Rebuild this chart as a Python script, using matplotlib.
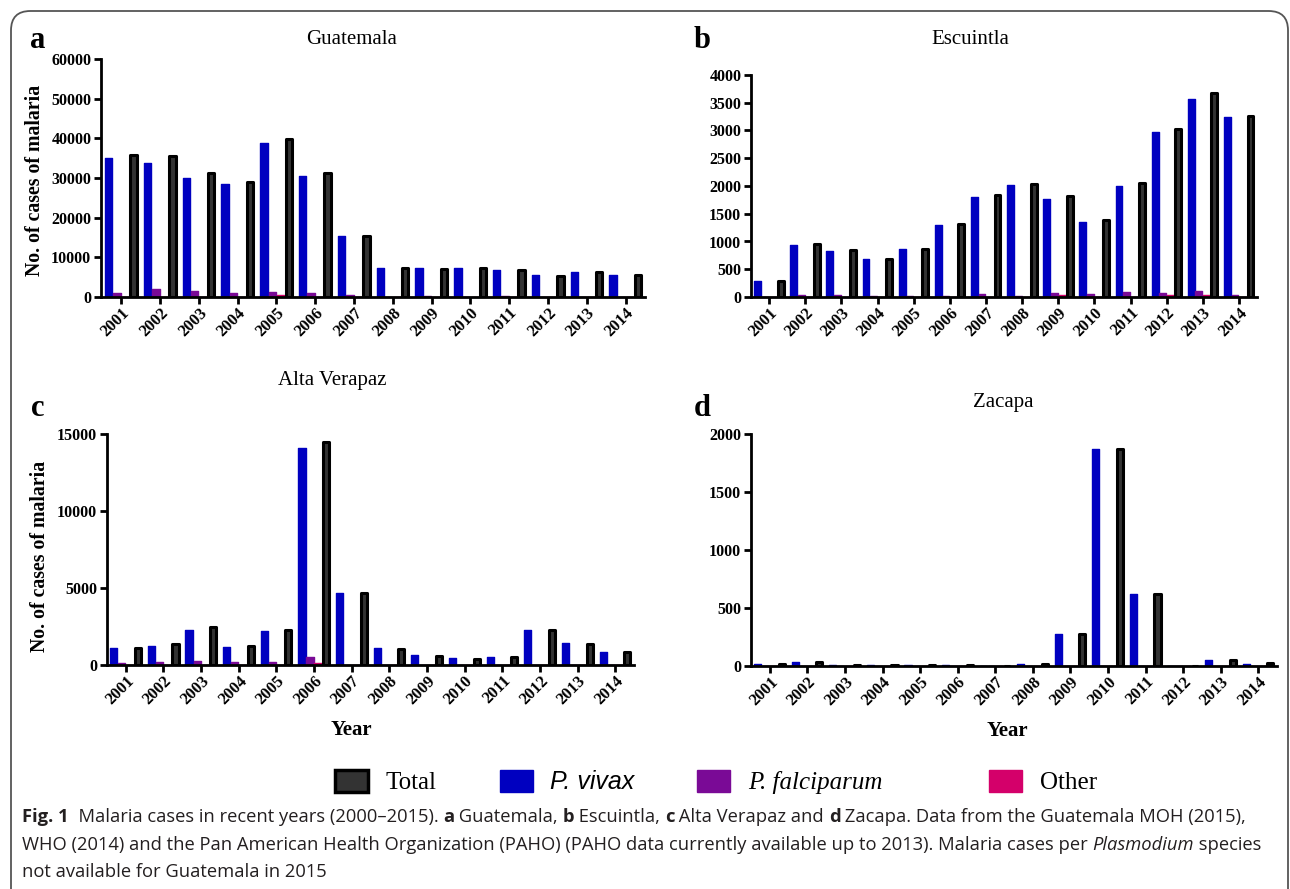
import matplotlib
matplotlib.use("Agg")
import matplotlib.pyplot as plt
from matplotlib.patches import Patch, FancyBboxPatch
import numpy as np

years = [str(y) for y in range(2001, 2015)]

# Panel a: Guatemala
gt_total = [35800, 35550, 31170, 29070, 39830, 31170, 15460, 7230, 7140, 7300, 6800, 5380, 6300, 5550]
gt_vivax = [35000, 33900, 30080, 28400, 38740, 30500, 15380, 7230, 7230, 7230, 6800, 5460, 6220, 5550]
gt_falc = [1100, 1900, 1400, 900, 1200, 1000, 400, 0, 150, 0, 150, 100, 100, 0]
gt_other = [0, 0, 0, 0, 400, 0, 0, 0, 0, 0, 0, 0, 0, 0]

# Panel b: Escuintla
es_total = [290, 950, 847, 685, 865, 1315, 1832, 2030, 1820, 1387, 2054, 3021, 3670, 3261]
es_vivax = [294, 940, 835, 685, 871, 1297, 1808, 2024, 1772, 1351, 1994, 2973, 3574, 3243]
es_falc = [0, 30, 30, 25, 25, 25, 60, 25, 72, 60, 84, 72, 114, 40]
es_other = [0, 0, 0, 0, 0, 0, 0, 0, 30, 0, 0, 30, 30, 0]

# Panel c: Alta Verapaz
av_total = [1080, 1340, 2442, 1253, 2290, 14500, 4690, 1060, 605, 389, 497, 2270, 1383, 821]
av_vivax = [1080, 1232, 2290, 1167, 2204, 14090, 4690, 1080, 627, 432, 519, 2290, 1405, 864]
av_falc = [100, 190, 240, 170, 170, 500, 30, 0, 0, 0, 0, 0, 0, 0]
av_other = [0, 0, 0, 0, 0, 100, 30, 0, 0, 0, 0, 0, 0, 0]

# Panel d: Zacapa
za_total = [20, 32, 10, 8, 8, 8, 0, 15, 280, 1873, 620, 0, 49, 23]
za_vivax = [20, 32, 10, 8, 8, 8, 0, 15, 280, 1873, 620, 0, 49, 20]
za_falc = [0, 0, 0, 0, 0, 0, 0, 0, 0, 0, 0, 0, 0, 0]
za_other = [0, 0, 0, 0, 4, 0, 0, 0, 0, 0, 0, 0, 0, 0]

titles = ["Guatemala", "Escuintla", "Alta Verapaz", "Zacapa"]
letters = ["a", "b", "c", "d"]
legend_labels = ["Total", "P. vivax", "P. falciparum", "Other"]

C_TOTAL = "#333333"
C_VIVAX = "#0000C0"
C_FALC = "#7A0A96"
C_OTHER = "#D4006A"

W, H = 1290, 889
fig = plt.figure(figsize=(W / 100, H / 100), dpi=100)

SERIF = "Liberation Serif"

def px_ax(l, t, r, b):
    return [l / W, 1 - b / H, (r - l) / W, (b - t) / H]

def fx(px):
    return px / W

def fy(py):
    return 1 - py / H

panels = [
    (px_ax(101, 59, 645, 297), gt_total, gt_vivax, gt_falc, gt_other, 60000, 10000, -0.52),
    (px_ax(751, 75, 1257, 297), es_total, es_vivax, es_falc, es_other, 4000, 500, -0.5),
    (px_ax(107, 434, 634, 665), av_total, av_vivax, av_falc, av_other, 15000, 5000, -0.5),
    (px_ax(751, 434, 1277, 666), za_total, za_vivax, za_falc, za_other, 2000, 500, -0.5),
]

x = np.arange(len(years))
bw = 0.19
for i, (rect, tot, viv, fal, oth, ymax, ystep, xl) in enumerate(panels):
    ax = fig.add_axes(rect)
    ax.bar(x - 0.32, viv, bw, color=C_VIVAX, edgecolor=C_VIVAX, linewidth=1, joinstyle="round")
    ax.bar(x - 0.107, fal, bw, color=C_FALC, edgecolor=C_FALC, linewidth=1, joinstyle="round")
    ax.bar(x + 0.107, oth, bw, color=C_OTHER, edgecolor=C_OTHER, linewidth=1, joinstyle="round")
    ax.bar(x + 0.32, tot, bw * 0.85, color=C_TOTAL, edgecolor="black", linewidth=2.2, joinstyle="round")
    ax.set_xlim(xl, 13.5)
    ax.set_ylim(0, ymax)
    ax.set_yticks(np.arange(0, ymax + 1, ystep))
    ax.set_xticks(x)
    ax.set_xticklabels(years, rotation=45, ha="right", va="top", rotation_mode="anchor")
    for s in ["top", "right"]:
        ax.spines[s].set_visible(False)
    for s in ["left", "bottom"]:
        ax.spines[s].set_linewidth(2)
    ax.tick_params(axis="both", width=2, length=5, direction="out", pad=2)
    ax.tick_params(axis="x", pad=0.5)
    for lab in ax.get_xticklabels():
        lab.set_fontfamily(SERIF)
        lab.set_fontweight("bold")
        lab.set_fontsize(12)
    for lab in ax.get_yticklabels():
        lab.set_fontfamily(SERIF)
        lab.set_fontweight("bold")
        lab.set_fontsize(11.5)

# axis labels
fig.text(fx(35), fy(180), "No. of cases of malaria", family=SERIF, fontweight="bold", fontsize=14.3,
         rotation=90, ha="center", va="center")
fig.text(fx(40), fy(556), "No. of cases of malaria", family=SERIF, fontweight="bold", fontsize=14.3,
         rotation=90, ha="center", va="center")
fig.text(fx(351), fy(730), "Year", family=SERIF, fontweight="bold", fontsize=15, ha="center", va="center")
fig.text(fx(1007), fy(731), "Year", family=SERIF, fontweight="bold", fontsize=15, ha="center", va="center")

# titles and panel letters
fig.text(fx(352), fy(40), titles[0], family=SERIF, fontsize=15, ha="center", va="center")
fig.text(fx(970), fy(40), titles[1], family=SERIF, fontsize=15, ha="center", va="center")
fig.text(fx(332), fy(380), titles[2], family=SERIF, fontsize=15, ha="center", va="center")
fig.text(fx(1003), fy(402), titles[3], family=SERIF, fontsize=15, ha="center", va="center")
for lt, (lx, ly) in zip(letters, [(38, 40), (702, 40), (38, 408), (702, 408)]):
    fig.text(fx(lx), fy(ly), lt, family=SERIF, fontweight="bold", fontsize=22, ha="center", va="center")

# legend
handles = [
    Patch(facecolor=C_TOTAL, edgecolor="black", linewidth=2.5),
    Patch(facecolor=C_VIVAX, edgecolor=C_VIVAX),
    Patch(facecolor=C_FALC, edgecolor=C_FALC),
    Patch(facecolor=C_OTHER, edgecolor=C_OTHER),
]
leg_labels = [legend_labels[0], legend_labels[1], legend_labels[2] + "       ", legend_labels[3]]
leg = fig.legend(handles, leg_labels, ncol=4, loc="center", bbox_to_anchor=(fx(716), fy(782)),
                 frameon=False, handlelength=1.32, handleheight=0.96, columnspacing=2.5,
                 handletextpad=0.72, prop={"family": SERIF, "size": 18})
texts = leg.get_texts()
texts[1].set_fontfamily("Liberation Sans")
texts[1].set_fontstyle("italic")
texts[2].set_fontstyle("italic")

# frame
frame = FancyBboxPatch((fx(11), -0.05), (1288 - 11) / W, 1 - 11 / H + 0.05,
                       boxstyle="round,pad=0,rounding_size=0.015", transform=fig.transFigure,
                       facecolor="none", edgecolor="#555555", linewidth=1.3, mutation_aspect=W / H)
fig.patches.append(frame)

# caption
CAP = "Open Sans"
cap_size = 13.2
caption_lines = [
    (817, [("Fig. 1", "bold", "normal"), ("  Malaria cases in recent years (2000\u20132015). ", "normal", "normal"),
           ("a", "bold", "normal"), (" Guatemala, ", "normal", "normal"), ("b", "bold", "normal"),
           (" Escuintla, ", "normal", "normal"), ("c", "bold", "normal"), (" Alta Verapaz and ", "normal", "normal"),
           ("d", "bold", "normal"), (" Zacapa. Data from the Guatemala MOH (2015),", "normal", "normal")]),
    (845, [("WHO (2014) and the Pan American Health Organization (PAHO) (PAHO data currently available up to 2013). Malaria cases per ", "normal", "normal"),
           ("Plasmodium", "normal", "italic"), (" species", "normal", "normal")]),
    (872, [("not available for Guatemala in 2015", "normal", "normal")]),
]
renderer = fig.canvas.get_renderer()
for ypix, segs in caption_lines:
    xpix = 22
    for txt, wt, st in segs:
        t = fig.text(fx(xpix), fy(ypix), txt, family=CAP, fontsize=cap_size, fontweight=wt,
                     fontstyle=st, ha="left", va="center", color="#231F20")
        bb = t.get_window_extent(renderer)
        xpix += bb.width

fig.savefig("out.png", dpi=100)
